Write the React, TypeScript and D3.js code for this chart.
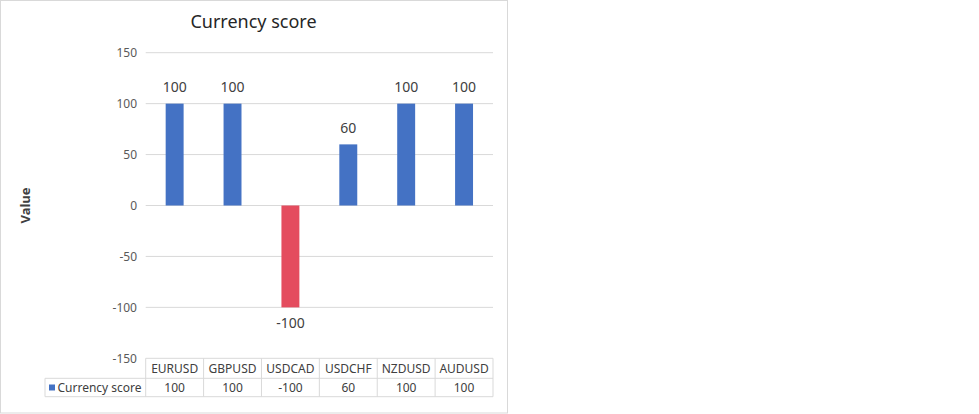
import React from "react";
import * as d3 from "d3";

const categories = ["EURUSD", "GBPUSD", "USDCAD", "USDCHF", "NZDUSD", "AUDUSD"];
const values = [100, 100, -100, 60, 100, 100];
const yTicks = [150, 100, 50, 0, -50, -100, -150];
const seriesName = "Currency score";
const chartTitle = "Currency score";
const yTitle = "Value";

const FONT = "'Noto Sans', 'Open Sans', sans-serif";
const BLUE = "#4472C4";
const RED = "#E44C5E";
const GRID = "#d9d9d9";

export default function App() {
  const W = 979;
  const H = 414;
  const plotLeft = 145.7;
  const plotRight = 493;
  const yTop = 52.7;
  const yBottom = 358.3;
  const row1Bottom = 378.3;
  const row2Bottom = 396.7;
  const legendLeft = 45;

  const x = d3.scaleBand<string>().domain(categories).range([plotLeft, plotRight]).paddingInner(0).paddingOuter(0);
  const y = d3.scaleLinear().domain([-150, 150]).range([yBottom, yTop]);
  const bw = x.bandwidth();
  const barW = bw * 0.31;

  const boundaries = [plotLeft, ...categories.map((c) => (x(c) as number) + bw)];

  return (
    <div style={{ position: "absolute", left: 0, top: 0 }}>
      <svg width={W} height={H} style={{ display: "block", background: "#fff" }}>
        <rect x={0.5} y={0.5} width={507} height={412.5} fill="#fff" stroke={GRID} strokeWidth={1} />
        <text x={253.5} y={28} textAnchor="middle" fontFamily={FONT} fontSize={18} fill="#262626">
          {chartTitle}
        </text>
        <text
          transform={`translate(30,${y(0)}) rotate(-90)`}
          textAnchor="middle"
          fontFamily={FONT}
          fontSize={13}
          fontWeight="bold"
          fill="#404040"
        >
          {yTitle}
        </text>
        {yTicks.map((t) => (
          <g key={t}>
            <line x1={plotLeft} x2={plotRight} y1={y(t)} y2={y(t)} stroke={GRID} strokeWidth={1} />
            <text
              x={137}
              y={y(t)}
              dy="0.35em"
              textAnchor="end"
              fontFamily={FONT}
              fontSize={12}
              fill="#595959"
            >
              {t}
            </text>
          </g>
        ))}
        {categories.map((c, i) => {
          const v = values[i];
          const cx = (x(c) as number) + bw / 2;
          const y0 = y(0);
          const yv = y(v);
          return (
            <g key={c}>
              <rect
                x={cx - barW / 2}
                y={Math.min(y0, yv)}
                width={barW}
                height={Math.abs(yv - y0)}
                fill={v < 0 ? RED : BLUE}
              />
              <text
                x={cx}
                y={v < 0 ? yv + 21 : yv - 11.5}
                textAnchor="middle"
                fontFamily={FONT}
                fontSize={14}
                fill="#404040"
              >
                {v}
              </text>
            </g>
          );
        })}
        {/* data table */}
        <line x1={legendLeft} x2={plotRight} y1={row1Bottom} y2={row1Bottom} stroke={GRID} />
        <line x1={legendLeft} x2={plotRight} y1={row2Bottom} y2={row2Bottom} stroke={GRID} />
        <line x1={legendLeft} x2={legendLeft} y1={row1Bottom} y2={row2Bottom} stroke={GRID} />
        {boundaries.map((b, i) => (
          <line key={i} x1={b} x2={b} y1={yBottom} y2={row2Bottom} stroke={GRID} />
        ))}
        {categories.map((c, i) => {
          const cx = (x(c) as number) + bw / 2;
          return (
            <g key={c}>
              <text x={cx} y={(yBottom + row1Bottom) / 2} dy="0.35em" textAnchor="middle" fontFamily={FONT} fontSize={12} fill="#404040">
                {c}
              </text>
              <text x={cx} y={(row1Bottom + row2Bottom) / 2} dy="0.35em" textAnchor="middle" fontFamily={FONT} fontSize={12} fill="#404040">
                {values[i]}
              </text>
            </g>
          );
        })}
        <rect x={49} y={384.5} width={6} height={6} fill={BLUE} />
        <text x={57.5} y={(row1Bottom + row2Bottom) / 2} dy="0.35em" fontFamily={FONT} fontSize={12} fill="#404040">
          {seriesName}
        </text>
      </svg>
    </div>
  );
}
